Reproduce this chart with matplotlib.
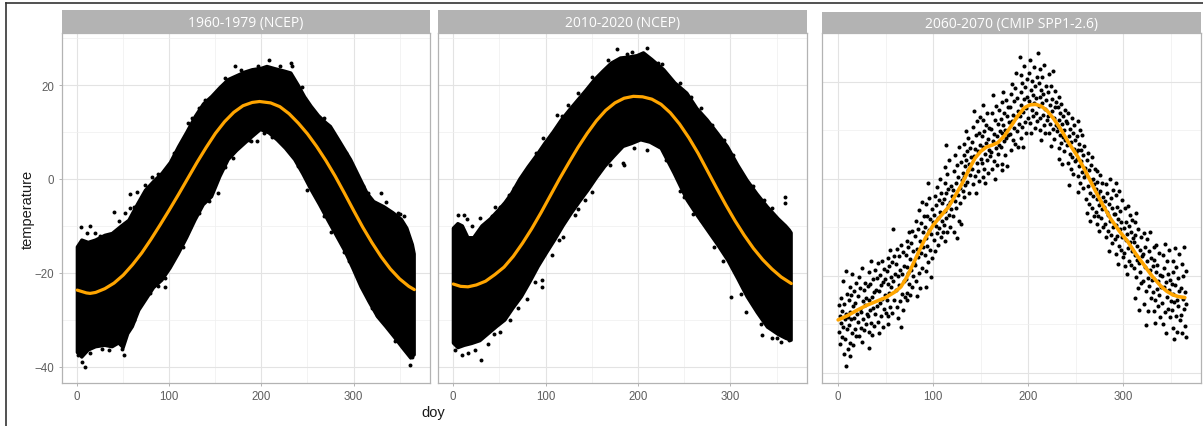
import matplotlib
matplotlib.use("Agg")
import matplotlib.pyplot as plt
from matplotlib.lines import Line2D
import numpy as np

# ---------------- data ----------------
panel_titles = ["1960-1979 (NCEP)", "2010-2020 (NCEP)", "2060-2070 (CMIP SPP1-2.6)"]
x_ticks = [0, 100, 200, 300]
y_ticks = [-40, -20, 0, 20]

# 1960-1979: extent of the dense point cloud (upper / lower edge)
p1_up_doy = [0, 5, 12, 20, 30, 38, 48, 56, 65, 74, 83, 92, 101, 110, 119, 128, 137, 146, 155, 164,
             173, 182, 190, 200, 206, 215, 225, 232, 240, 247, 254, 262, 270, 275, 285, 297, 306,
             315, 322, 333, 343, 352, 358, 364, 366]
p1_up_t = [-14.5, -13.0, -13.5, -13.0, -12.0, -11.6, -10.0, -8.8, -5.5, -2.4, -0.5, 1.2, 3.5, 6.9,
           10.0, 13.3, 16.0, 17.6, 19.5, 21.2, 22.0, 22.8, 23.3, 23.6, 24.0, 23.5, 23.0, 22.6, 20.0,
           17.5, 15.5, 13.5, 12.0, 11.2, 8.0, 4.1, 0.5, -3.1, -4.8, -5.9, -7.2, -8.6, -10.5, -14.0, -16.0]
p1_lo_doy = [0, 5, 12, 20, 30, 38, 45, 50, 55, 60, 67, 74, 83, 92, 101, 110, 119, 128, 137, 146,
             155, 164, 173, 182, 190, 199, 208, 217, 226, 236, 245, 254, 263, 272, 281, 290, 299,
             308, 317, 326, 335, 344, 353, 362, 366]
p1_lo_t = [-37.0, -38.0, -36.5, -35.8, -35.5, -35.8, -35.0, -36.0, -33.0, -31.5, -28.0, -25.9, -23.2,
           -21.6, -19.0, -15.9, -12.5, -8.8, -5.5, -3.8, 0.5, 4.1, 6.0, 7.6, 9.0, 10.5, 9.8, 8.3, 6.5,
           4.1, 1.0, -2.4, -5.5, -8.8, -12.0, -15.2, -19.0, -23.0, -26.3, -29.4, -31.5, -33.7, -36.0,
           -38.2, -37.5]
# 1960-1979: scattered points along the edges of the cloud
p1_pt_doy = [3.6, 14.4, 10.8, 19.8, 39.7, 52.3, 57.7, 57.7, 64.9, 73.2, 81.2, 95.6, 120.8, 131.7,
             138.9, 153.3, 149.7, 171.4, 169.6, 171.4, 1.1, 9.0, 5.4, 27.0, 50.5, 48.7, 55.9, 66.7,
             79.4, 95.6, 95.6, 106.4, 122.7, 131.7, 140.7, 208.3, 231.9, 233.7, 188.4, 195.7, 202.9,
             250.0, 275.4, 289.9, 300.7, 329.7, 315.2, 347.8, 355.0, 364.0, 317.0, 326.0, 337.0,
             352.0, 361.0, 363.0,
             25, 45, 62, 88, 105, 125, 160, 178, 196, 220, 244, 268, 292, 310, 335, 350,
             14, 35, 62, 88, 115, 143, 160, 186, 212, 240, 268, 295, 320, 345]
p1_pt_t = [-10.2, -10.0, -11.6, -11.6, -7.0, -7.3, -6.3, -3.3, -2.7, -1.3, 0.4, 1.9, 11.9, 15.1, 16.9,
           -3.1, -0.9, 24.0, 4.4, 6.2, -37.6, -40.1, -39.0, -36.2, -37.6, -36.2, -31.6, -25.9, -24.4,
           -23.0, -21.2, -14.5, -10.2, -7.3, -4.5, 25.4, 24.7, 24.0, 8.0, 8.0, 9.8, -2.4, -11.3,
           -15.5, -17.3, -3.1, -3.1, -7.3, -8.0, -16.2, -25.9, -29.1, -31.6, -35.1, -39.7, -38.0,
           -12.2, -9.0, -6.0, 1.0, 5.5, 13.0, 21.5, 23.2, 24.0, 24.0, 19.5, 13.0, 5.5, -1.5, -5.0, -7.5,
           -37.0, -36.5, -30.0, -22.8, -14.5, -4.8, 2.5, 8.3, 9.0, 2.8, -7.8, -17.5, -27.5, -34.5]
# 1960-1979: smoothed seasonal curve
p1_fit_doy = [0, 10, 14, 20, 30, 40, 50, 60, 70, 80, 90, 100, 110, 120, 130, 140, 150, 160, 170,
              180, 190, 198, 210, 220, 230, 240, 250, 260, 270, 280, 290, 300, 310, 320, 330, 340,
              350, 360, 366]
p1_fit_t = [-23.7, -24.3, -24.4, -24.2, -23.4, -22.2, -20.5, -18.3, -15.8, -12.9, -9.8, -6.6, -3.3,
            0.1, 3.5, 6.7, 9.7, 12.2, 14.2, 15.6, 16.3, 16.5, 16.2, 15.4, 13.9, 11.9, 9.6, 6.9, 3.9,
            0.6, -3.0, -6.7, -10.3, -13.6, -16.6, -19.2, -21.3, -22.9, -23.6]

# 2010-2020
p2_up_doy = [0, 5, 10, 16, 22, 31, 40, 49, 56, 63, 72, 81, 90, 99, 108, 117, 126, 135, 144, 153,
             162, 171, 181, 190, 199, 206, 215, 228, 240, 253, 264, 275, 286, 297, 308, 318, 329,
             340, 352, 360, 364, 366]
p2_up_t = [-10.5, -9.5, -10.0, -12.5, -12.5, -10.0, -8.5, -6.6, -5.0, -3.1, 0.0, 2.6, 5.0, 7.6, 10.0,
           12.6, 14.8, 16.9, 19.0, 21.2, 23.0, 24.7, 25.8, 26.0, 26.3, 26.9, 25.5, 23.3, 20.5, 18.3,
           15.0, 12.6, 9.8, 6.9, 3.0, -0.2, -3.2, -5.9, -8.5, -10.0, -10.9, -11.5]
p2_lo_doy = [0, 5, 12, 20, 29, 38, 47, 56, 65, 74, 83, 92, 101, 110, 119, 128, 137, 146, 155, 164,
             174, 184, 193, 203, 213, 225, 239, 253, 264, 275, 286, 297, 308, 318, 329, 340, 352,
             360, 366]
p2_lo_t = [-35.0, -36.0, -35.5, -35.1, -34.5, -33.0, -31.5, -30.1, -27.5, -25.1, -22.0, -18.7, -15.8,
           -13.0, -10.0, -7.3, -4.8, -2.4, 0.2, 2.6, 4.8, 6.9, 7.5, 8.3, 7.8, 6.5, 1.2, -4.5, -7.8,
           -10.9, -14.0, -17.3, -21.3, -25.1, -28.5, -31.6, -33.2, -34.0, -34.4]
p2_pt_doy = [5.4, 11.9, 28.9, 41.5, 50.5, 70.4, 84.8, 97.5, 102.9, 111.9, 124.5, 135.4, 176.9, 160.6,
             9.0, 30.0, 23.5, 37.9, 50.5, 61.4, 79.4, 95.7, 95.7, 106.5, 119.1, 131.8, 142.6, 157.0,
             184.0, 209.4, 188.4, 226.4, 267.9, 293.1, 300.4, 322.0, 336.5, 358.8, 358.8, 184.8,
             210.1, 249.8, 267.9, 282.3, 300.4, 316.6, 334.7, 345.5, 354.5, 363.5,
             15, 20, 45, 60, 66, 90, 118, 150, 168, 193, 222, 246, 257, 280, 303, 325, 345,
             2, 16, 44, 70, 88, 115, 135, 150, 170, 196, 230, 246, 260, 292, 312, 333, 350]
p2_pt_t = [-7.7, -7.7, -8.4, -8.0, -5.9, -0.9, 3.3, 8.7, 6.2, 13.7, 15.8, 18.3, 27.7, 21.9, -37.6,
           -38.7, -36.5, -35.1, -32.6, -30.1, -25.5, -23.0, -21.6, -16.2, -12.3, -7.7, -4.5, 1.2, 3.3,
           27.9, 26.7, 24.4, 15.1, 8.3, 3.7, -1.6, -4.5, -3.8, -5.2, 3.0, 6.2, -3.8, -8.8, -14.5,
           -25.1, -28.3, -33.3, -34.0, -34.8, -34.4,
           -8.5, -10.0, -6.0, -3.5, -2.0, 5.5, 13.5, 21.8, 25.3, 27.0, 24.8, 20.4, 17.5, 11.5, 5.0,
           -1.5, -6.3,
           -36.5, -37.0, -33.0, -27.5, -22.0, -13.0, -6.5, -2.7, 3.0, 6.5, 4.0, -2.5, -7.5, -17.5,
           -24.5, -31.0, -34.0]
p2_fit_doy = [0, 8, 16, 25, 35, 45, 55, 65, 75, 85, 95, 105, 115, 125, 135, 145, 155, 165, 175,
              185, 195, 205, 215, 225, 235, 245, 255, 265, 275, 285, 295, 305, 315, 325, 335, 345,
              355, 366]
p2_fit_t = [-22.4, -22.9, -23.0, -22.6, -21.8, -20.4, -18.8, -16.5, -13.7, -10.6, -7.2, -3.6, 0.0,
            3.4, 6.7, 9.7, 12.4, 14.6, 16.2, 17.2, 17.6, 17.5, 17.0, 15.9, 14.1, 11.7, 8.8, 5.5, 1.8,
            -1.9, -5.5, -8.9, -12.0, -14.8, -17.2, -19.2, -20.9, -22.3]

# 2060-2070: individual daily values
p3_doy = [
    1, 1, 2, 2, 3, 3, 4, 4, 5, 6, 6, 7, 7, 8, 8, 9, 9, 10, 10,
    11, 11, 12, 12, 13, 13, 14, 14, 15, 15, 16, 16, 17, 17, 18, 18, 19, 19, 20,
    21, 21, 22, 22, 23, 23, 24, 24, 25, 25, 26, 26, 27, 27, 28, 28, 29, 29, 30,
    31, 31, 32, 32, 33, 33, 34, 34, 35, 35, 36, 36, 37, 37, 38, 38, 39, 39, 40,
    41, 41, 42, 42, 43, 43, 44, 44, 45, 45, 46, 46, 47, 47, 48, 48, 49, 49, 50,
    51, 51, 52, 52, 53, 53, 54, 54, 55, 55, 56, 56, 57, 57, 58, 58, 59, 59, 60,
    61, 61, 62, 62, 63, 63, 64, 64, 65, 65, 66, 66, 67, 67, 68, 68, 69, 69, 70,
    71, 71, 72, 72, 73, 73, 74, 74, 75, 75, 76, 76, 77, 77, 78, 78, 79, 79, 80,
    81, 81, 82, 82, 83, 83, 84, 84, 85, 85, 86, 86, 87, 87, 88, 88, 89, 89, 90,
    91, 91, 92, 92, 93, 93, 94, 94, 95, 95, 96, 96, 97, 97, 98, 98, 99, 99, 100,
    101, 101, 102, 102, 103, 103, 104, 104, 105, 105, 106, 106, 107, 107, 108, 108, 109, 109, 110,
    111, 111, 112, 112, 113, 113, 114, 114, 115, 115, 116, 116, 117, 117, 118, 118, 119, 119, 120,
    121, 121, 122, 122, 123, 123, 124, 124, 125, 125, 126, 126, 127, 127, 128, 128, 129, 129, 130,
    131, 131, 132, 132, 133, 133, 134, 134, 135, 135, 136, 136, 137, 137, 138, 138, 139, 139, 140,
    141, 141, 142, 142, 143, 143, 144, 144, 145, 145, 146, 146, 147, 147, 148, 148, 149, 149, 150,
    151, 151, 152, 152, 153, 153, 154, 154, 155, 155, 156, 156, 157, 157, 158, 158, 159, 159, 160,
    161, 161, 162, 162, 163, 163, 164, 164, 165, 165, 166, 166, 167, 167, 168, 168, 169, 169, 170,
    171, 171, 172, 172, 173, 173, 174, 174, 175, 175, 176, 176, 177, 177, 178, 178, 179, 179, 180,
    181, 181, 182, 182, 183, 183, 184, 184, 185, 185, 186, 186, 187, 187, 188, 188, 189, 189, 190,
    191, 191, 192, 192, 193, 193, 194, 194, 195, 195, 196, 196, 197, 197, 198, 198, 199, 199, 200,
    201, 201, 202, 202, 203, 203, 204, 204, 205, 205, 206, 206, 207, 207, 208, 208, 209, 209, 210,
    211, 211, 212, 212, 213, 213, 214, 214, 215, 215, 216, 216, 217, 217, 218, 218, 219, 219, 220,
    221, 221, 222, 222, 223, 223, 224, 224, 225, 225, 226, 226, 227, 227, 228, 228, 229, 229, 230,
    231, 231, 232, 232, 233, 233, 234, 234, 235, 235, 236, 236, 237, 237, 238, 238, 239, 239, 240,
    241, 241, 242, 242, 243, 243, 244, 244, 245, 245, 246, 246, 247, 247, 248, 248, 249, 249, 250,
    251, 251, 252, 252, 253, 253, 254, 254, 255, 255, 256, 256, 257, 257, 258, 258, 259, 259, 260,
    261, 261, 262, 262, 263, 263, 264, 264, 265, 265, 266, 266, 267, 267, 268, 268, 269, 269, 270,
    271, 271, 272, 272, 273, 273, 274, 274, 275, 275, 276, 276, 277, 277, 278, 278, 279, 279, 280,
    281, 281, 282, 282, 283, 283, 284, 284, 285, 285, 286, 286, 287, 287, 288, 288, 289, 289, 290,
    291, 291, 292, 292, 293, 293, 294, 294, 295, 295, 296, 296, 297, 297, 298, 298, 299, 299, 300,
    301, 301, 302, 302, 303, 303, 304, 304, 305, 305, 306, 306, 307, 307, 308, 308, 309, 309, 310,
    311, 311, 312, 312, 313, 313, 314, 314, 315, 315, 316, 316, 317, 317, 318, 318, 319, 319, 320,
    321, 321, 322, 322, 323, 323, 324, 324, 325, 325, 326, 326, 327, 327, 328, 328, 329, 329, 330,
    331, 331, 332, 332, 333, 333, 334, 334, 335, 335, 336, 336, 337, 337, 338, 338, 339, 339, 340,
    341, 341, 342, 342, 343, 343, 344, 344, 345, 345, 346, 346, 347, 347, 348, 348, 349, 349, 350,
    351, 351, 352, 352, 353, 353, 354, 354, 355, 355, 356, 356, 357, 357, 358, 358, 359, 359, 360,
    361, 361, 362, 362, 363, 363, 364, 364, 365, 365, 366, 366, 366,
    114, 8, 5,
]
p3_temp = [
    -26.0, -31.5, -28.4, -34.0, -24.6, -29.8, -32.6, -27.2, -30.5, -36.2, -25.8, -29.0, -33.1, -27.9, -38.5, -31.0, -23.8, -28.6, -35.0,
    -25.1, -30.2, -33.8, -22.4, -27.5, -36.5, -29.0, -24.0, -31.7, -19.6, -26.3, -34.2, -28.8, -23.2, -30.9, -25.7, -32.5, -21.5, -27.9,
    -24.1, -29.6, -20.3, -32.4, -26.8, -22.6, -30.7, -27.4, -18.5, -33.6, -25.3, -28.9, -23.0, -31.2, -21.4, -26.1, -29.9, -24.6, -27.8,
    -22.1, -28.3, -19.2, -31.6, -25.0, -34.8, -21.7, -27.1, -17.0, -29.8, -24.4, -32.3, -20.6, -26.6, -23.3, -30.4, -18.8, -27.9, -22.9,
    -20.4, -26.2, -17.4, -29.5, -23.1, -31.8, -19.9, -25.6, -22.0, -28.4, -16.9, -24.7, -21.3, -30.6, -18.6, -26.9, -23.9, -20.7, -27.6,
    -19.1, -25.0, -16.3, -28.2, -21.8, -29.9, -18.0, -23.6, -14.8, -26.5, -20.2, -22.4, -17.2, -27.7, -10.4, -21.0, -24.9, -15.9, -19.6,
    -17.5, -23.0, -14.4, -26.4, -20.1, -28.8, -16.0, -21.9, -18.9, -25.2, -13.6, -30.5, -19.7, -23.8, -15.2, -27.0, -17.9, -21.1, -24.3,
    -15.8, -20.6, -12.9, -23.5, -18.2, -25.1, -14.1, -19.4, -11.0, -21.7, -16.6, -24.0, -13.2, -18.8, -10.8, -22.3, -15.0, -20.0, -17.3,
    -11.9, -17.8, -8.7, -21.1, -14.4, -24.2, -10.3, -16.2, -6.4, -19.5, -12.8, -22.6, -9.1, -15.3, -4.8, -18.4, -11.0, -14.0, -7.6,
    -9.9, -15.7, -5.2, -19.0, -12.3, -22.3, -7.8, -13.9, -1.0, -17.1, -10.6, -4.0, -14.8, -8.4, -20.2, -11.5, -6.3, -16.3, -9.0,
    -7.4, -12.6, -3.6, -15.0, -9.8, -5.5, -11.3, -1.8, -8.2, -13.7, -4.5, -10.1, 0.0, -6.9, -12.0, -2.9, -8.8, -5.0, -10.9,
    -4.2, -9.6, -0.8, -12.8, -6.7, 2.3, -3.0, -8.1, -11.0, 0.9, -5.4, -2.1, -7.5, 3.8, -4.8, -10.0, -1.5, -6.2, -3.5,
    -2.4, -7.8, 1.6, -10.9, -4.6, 4.9, -0.9, -6.0, -12.3, 2.8, -3.3, 0.4, -8.7, 6.5, -1.9, -5.1, 3.5, -9.4, -0.2,
    1.2, -2.6, 4.8, -3.7, 0.3, 7.2, 2.6, -1.4, 9.8, 3.9, -0.6, 5.6, 1.8, 8.4, -2.9, 3.1, 6.3, 0.7, 4.4,
    2.0, 7.5, -1.1, 10.6, 4.7, 13.9, 0.6, 6.2, 8.9, -3.0, 3.3, 11.8, 5.6, 1.5, 9.4, -0.4, 7.0, 12.7, 4.1,
    3.2, 8.8, 0.4, 12.1, 6.5, 15.2, 2.0, 9.9, -1.0, 5.0, 11.0, 7.3, 3.9, 13.6, 8.1, 1.1, 10.4, 6.0, 4.6,
    5.4, 10.2, 1.9, 13.5, 7.8, 17.2, 3.6, 9.1, 0.0, 12.0, 6.3, 15.0, 8.7, 2.9, 11.2, 5.1, 14.1, 7.0, 9.8,
    6.6, 12.3, 3.1, 15.8, 9.4, 1.8, 11.0, 17.9, 7.7, 13.6, 4.9, 10.1, 16.2, 8.3, 12.8, 2.7, 14.7, 9.0, 11.6,
    9.2, 14.8, 6.0, 17.5, 11.9, 19.4, 8.0, 13.2, 15.9, 10.4, 7.1, 18.6, 12.6, 21.8, 9.8, 16.7, 14.0, 6.6, 11.3,
    25.0, 12.9, 17.8, 8.4, 21.3, 15.2, 10.7, 19.6, 13.8, 6.5, 23.2, 16.4, 11.6, 18.9, 14.6, 9.3, 20.5, 16.9, 12.4,
    16.0, 21.7, 11.5, 24.4, 18.3, 9.3, 14.2, 20.1, 12.8, 17.2, 22.9, 15.5, 10.4, 19.0, 13.6, 16.6, 21.0, 11.9, 25.9,
    14.9, 19.8, 10.1, 22.5, 16.9, 12.4, 18.2, 8.0, 15.6, 20.9, 13.1, 17.5, 11.0, 23.4, 14.3, 9.5, 19.1, 16.1, 12.0,
    13.0, 17.9, 9.4, 21.6, 15.1, 11.2, 19.0, 6.8, 13.9, 16.5, 10.3, 22.2, 12.5, 8.2, 18.0, 14.8, 11.0, 15.7, 9.9,
    10.6, 14.7, 6.3, 16.8, 12.1, 4.0, 9.0, 13.5, 7.4, 15.4, 11.3, 3.1, 8.5, 12.8, 5.6, 10.0, 14.1, 7.9, 11.8,
    6.9, 11.4, 3.2, 13.6, 8.8, -1.4, 5.1, 10.3, 2.0, 7.6, 12.5, 4.4, 9.5, 0.9, 6.2, 11.0, 3.7, 8.0, 5.5,
    4.0, 8.7, 0.6, 11.9, 5.9, -2.8, 2.7, 7.2, -0.8, 10.0, 3.6, 6.0, 1.4, 8.9, -2.0, 4.8, 0.3, 6.8, 2.2,
    0.9, -4.1, 3.8, -7.0, -1.6, 5.2, -5.2, 1.7, -2.9, -8.8, 2.9, -0.3, -6.1, 4.4, -3.5, 0.0, -7.7, -1.2, 2.0,
    -2.2, -6.8, 1.6, -9.3, -4.2, -0.6, -7.6, -3.1, -10.8, -5.4, 0.8, -2.5, -8.2, -4.9, -1.0, -6.3, -9.9, -3.7, -5.8,
    -4.6, -9.4, -1.2, -12.0, -6.8, -3.0, -10.7, -7.5, -14.9, -5.2, 0.0, -8.8, -11.6, -4.0, -6.1, -13.3, -2.3, -9.9, -7.3,
    -7.2, -12.5, -3.4, -15.6, -9.5, -0.8, -11.8, -5.9, -17.6, -8.3, -13.9, -2.6, -10.4, -6.7, -14.6, -9.0, -4.3, -12.0, -16.2,
    -10.2, -15.4, -6.1, -18.0, -12.7, -8.9, -19.6, -11.5, -14.3, -5.6, -9.7, -16.9, -13.0, -7.4, -17.8, -11.0, -14.9, -8.6, -12.2,
    -13.1, -18.4, -9.0, -24.6, -15.7, -11.6, -20.2, -7.0, -16.8, -13.9, -22.5, -10.3, -17.4, -27.0, -14.6, -19.3, -12.0, -21.4, -16.0,
    -15.5, -21.0, -11.2, -25.8, -18.3, -14.0, -23.2, -30.2, -17.0, -12.5, -20.4, -27.3, -15.0, -22.1, -18.9, -11.0, -24.5, -16.4, -20.8,
    -18.0, -23.4, -14.1, -27.2, -20.6, -16.8, -25.1, -29.8, -19.2, -13.6, -22.8, -17.7, -26.3, -21.0, -15.3, -24.0, -19.9, -28.5, -22.3,
    -20.1, -25.6, -15.8, -29.9, -22.4, -18.5, -27.4, -13.5, -21.2, -31.8, -24.3, -17.0, -19.6, -26.8, -23.0, -14.8, -28.6, -20.9, -25.2,
    -21.7, -27.0, -16.9, -30.8, -23.8, -19.3, -33.0, -25.4, -14.2, -22.0, -28.4, -18.2, -24.9, -31.5, -20.5, -26.2, -15.6, -23.1, -29.2,
    -22.6, -28.0, -17.5, -31.9, -24.7, -20.0, -26.9, -14.1, -23.4, -30.3, -19.0, -25.8, -32.6,
    6.9, -19.0, -21.0,
]
p3_fit_doy = [0, 10, 20, 30, 40, 50, 60, 66, 72, 78, 85, 92, 100, 108, 116, 123, 130, 137, 144, 150,
              156, 162, 168, 175, 182, 189, 196, 202, 208, 214, 220, 227, 234, 243, 252, 261, 270,
              278, 287, 296, 305, 313, 322, 331, 340, 346, 352, 358, 365]
p3_fit_t = [-29.1, -28.2, -27.1, -26.1, -25.3, -24.5, -23.3, -22.3, -20.4, -18.0, -15.0, -12.2, -9.6,
            -7.7, -5.9, -3.6, -1.2, 1.6, 4.2, 5.6, 6.5, 6.9, 7.4, 8.8, 10.8, 12.9, 14.6, 15.2, 15.3,
            14.9, 14.0, 12.3, 10.3, 7.3, 4.6, 1.3, -2.2, -5.2, -8.3, -10.8, -13.0, -15.4, -17.8,
            -20.2, -22.2, -23.2, -23.9, -24.3, -24.5]

# ---------------- styling ----------------
W, H = 1203, 427
DPI = 100
ORANGE = "#FFA500"
GRID_MAJOR = "#E3E3E3"
GRID_MINOR = "#EFEFEF"
BORDER = "#B3B3B3"
TICK_TXT = "#5E5E5E"
FONT = "Liberation Sans"

fig = plt.figure(figsize=(W / DPI, H / DPI), dpi=DPI)
fig.patch.set_facecolor("white")


def px_rect(x0, y0, x1, y1):
    return [x0 / W, 1 - y1 / H, (x1 - x0) / W, (y1 - y0) / H]


def style_panel(ax, xlim, ylim, show_y):
    ax.set_xlim(*xlim)
    ax.set_ylim(*ylim)
    ax.set_xticks(x_ticks)
    ax.set_xticks([50, 150, 250, 350], minor=True)
    ax.set_yticks(y_ticks)
    ax.set_yticks([-30, -10, 10, 30], minor=True)
    ax.grid(which="major", color=GRID_MAJOR, linewidth=0.8, zorder=0)
    ax.grid(which="minor", color=GRID_MINOR, linewidth=0.5, zorder=0)
    ax.set_axisbelow(True)
    for s in ax.spines.values():
        s.set_color(BORDER)
        s.set_linewidth(0.9)
    ax.tick_params(which="major", length=2.2, width=0.7, color=BORDER, pad=3.2,
                   labelsize=8.3, labelcolor=TICK_TXT)
    ax.tick_params(which="minor", length=0)
    for lab in ax.get_xticklabels() + ax.get_yticklabels():
        lab.set_fontfamily(FONT)
    if not show_y:
        ax.tick_params(axis="y", which="major", length=0, labelleft=False)


def strip(x0, y0, x1, y1, text):
    sax = fig.add_axes(px_rect(x0, y0, x1, y1))
    sax.set_facecolor(BORDER)
    sax.set_xticks([])
    sax.set_yticks([])
    for s in sax.spines.values():
        s.set_visible(False)
    sax.text(0.5, 0.47, text, ha="center", va="center", color="white",
             fontsize=10, fontfamily="Open Sans", transform=sax.transAxes)


def cloud_panel(ax, up_doy, up_t, lo_doy, lo_t, pt_doy, pt_t, fit_doy, fit_t):
    ax.fill(np.concatenate([up_doy, lo_doy[::-1]]),
            np.concatenate([up_t, lo_t[::-1]]),
            facecolor="black", edgecolor="black", linewidth=2.2, joinstyle="round", zorder=2)
    ax.scatter(pt_doy, pt_t, s=8, color="black", linewidths=0, zorder=3)
    ax.plot(fit_doy, fit_t, color=ORANGE, linewidth=2.3, solid_capstyle="round",
            solid_joinstyle="round", zorder=4)


ylim12 = (-43.5, 31.1)
xlim12 = (-16.5, 383.0)

# panel 1
ax1 = fig.add_axes(px_rect(62, 34, 430, 384))
style_panel(ax1, xlim12, ylim12, True)
cloud_panel(ax1, p1_up_doy, p1_up_t, p1_lo_doy, p1_lo_t, p1_pt_doy, p1_pt_t, p1_fit_doy, p1_fit_t)
strip(62, 11, 430, 34, panel_titles[0])

# panel 2
ax2 = fig.add_axes(px_rect(438, 34, 807, 384))
style_panel(ax2, xlim12, ylim12, False)
cloud_panel(ax2, p2_up_doy, p2_up_t, p2_lo_doy, p2_lo_t, p2_pt_doy, p2_pt_t, p2_fit_doy, p2_fit_t)
strip(438, 11, 807, 34, panel_titles[1])

# panel 3
ax3 = fig.add_axes(px_rect(822, 34, 1201, 384))
style_panel(ax3, (-17.0, 382.0), (-42.1, 28.5), False)
ax3.scatter(p3_doy, p3_temp, s=8.5, color="black", linewidths=0, zorder=3)
ax3.plot(p3_fit_doy, p3_fit_t, color=ORANGE, linewidth=2.6, solid_capstyle="round",
         solid_joinstyle="round", zorder=4)
strip(822, 13, 1201, 34, panel_titles[2])

# axis titles
fig.text(27.5 / W, 1 - 209 / H, "temperature", rotation=90, ha="center", va="center",
         fontsize=10.5, fontfamily=FONT, color="#1A1A1A")
fig.text(433 / W, 1 - 413 / H, "doy", ha="center", va="center",
         fontsize=10.5, fontfamily=FONT, color="#1A1A1A")

# outer frame lines
fig.add_artist(Line2D([6 / W, 6 / W], [0, 1 - 4 / H], color="#333333", linewidth=1.2))
fig.add_artist(Line2D([6 / W, 1], [1 - 4 / H, 1 - 4 / H], color="#333333", linewidth=1.2))

fig.savefig("out.png", dpi=DPI)
